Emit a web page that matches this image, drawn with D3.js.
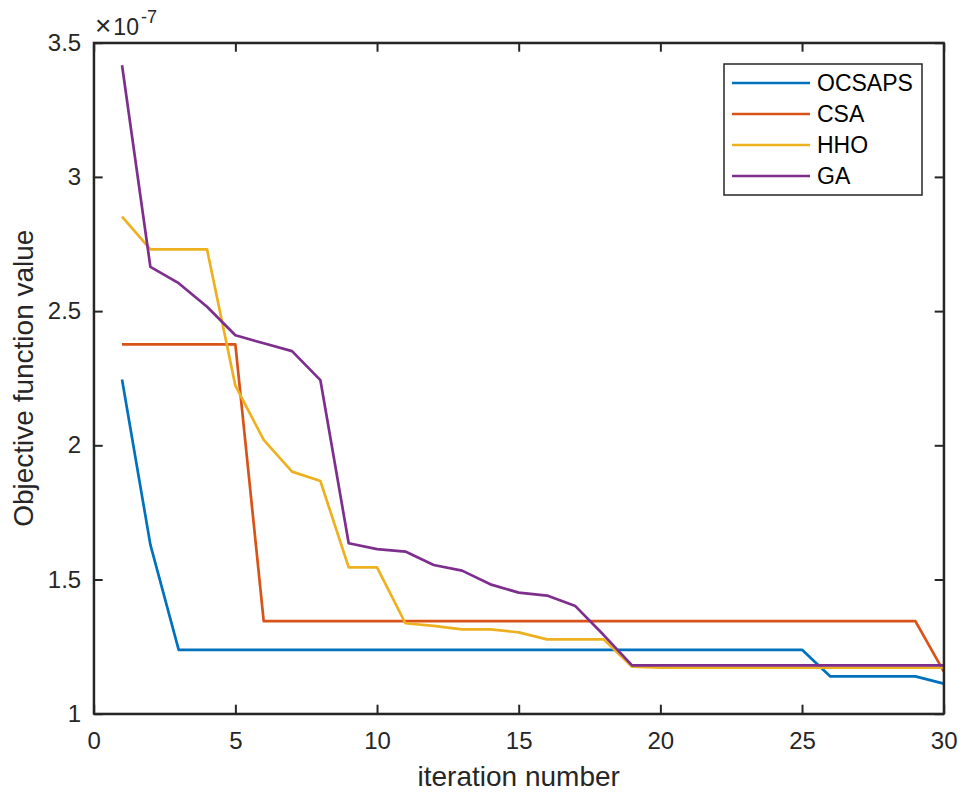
<!DOCTYPE html>
<html>
<head>
<meta charset="utf-8">
<script src="https://cdn.jsdelivr.net/npm/d3@7"></script>
<style>
  body { margin: 0; background: #fff; }
  svg { font-family: "Liberation Sans", Arial, sans-serif; }
  .axis path, .axis line { stroke: #262626; }
  .axis text { fill: #262626; font-size: 24px; }
</style>
</head>
<body>
<svg id="chart"></svg>
<script>
// iterations 1..30, values in units of 1e-7
const iterations = d3.range(1, 31);
const seriesNames = ["OCSAPS", "CSA", "HHO", "GA"];
const colors = ["#0072BD", "#D95319", "#EDB120", "#7E2F8E"];

const ocsaps = [2.245, 1.63, 1.238, 1.238, 1.238, 1.238, 1.238, 1.238, 1.238, 1.238,
  1.238, 1.238, 1.238, 1.238, 1.238, 1.238, 1.238, 1.238, 1.238, 1.238,
  1.238, 1.238, 1.238, 1.238, 1.238, 1.139, 1.139, 1.139, 1.139, 1.112];
const csa = [2.376, 2.376, 2.376, 2.376, 2.376, 1.345, 1.345, 1.345, 1.345, 1.345,
  1.345, 1.345, 1.345, 1.345, 1.345, 1.345, 1.345, 1.345, 1.345, 1.345,
  1.345, 1.345, 1.345, 1.345, 1.345, 1.345, 1.345, 1.345, 1.345, 1.158];
const hho = [2.852, 2.730, 2.730, 2.730, 2.222, 2.020, 1.902, 1.867, 1.545, 1.545,
  1.337, 1.327, 1.314, 1.314, 1.303, 1.277, 1.277, 1.277, 1.175, 1.172,
  1.172, 1.172, 1.172, 1.172, 1.172, 1.172, 1.172, 1.172, 1.172, 1.172];
const ga = [3.416, 2.665, 2.604, 2.516, 2.410, 2.380, 2.351, 2.243, 1.635, 1.613,
  1.604, 1.554, 1.533, 1.482, 1.451, 1.440, 1.401, 1.293, 1.180, 1.180,
  1.180, 1.180, 1.180, 1.180, 1.180, 1.180, 1.180, 1.180, 1.180, 1.180];

const xTicks = [0, 5, 10, 15, 20, 25, 30];
const yTicks = [1, 1.5, 2, 2.5, 3, 3.5];

const allSeries = [ocsaps, csa, hho, ga];

const W = 962, H = 796;
const margin = { top: 42.7, right: 18.3, bottom: 82.3, left: 93.7 };
const width = W - margin.left - margin.right;
const height = H - margin.top - margin.bottom;

const svg = d3.select("#chart").attr("width", W).attr("height", H);
const chart = svg.append("g")
  .attr("transform", `translate(${margin.left},${margin.top})`);

const xScale = d3.scaleLinear().domain([0, 30]).range([0, width]);
const yScale = d3.scaleLinear().domain([1, 3.5]).range([height, 0]);

// axes, ticks pointing inward on all four sides (MATLAB style)
const tickLen = 9;
chart.append("g").attr("class", "axis")
  .attr("transform", `translate(0,${height})`)
  .call(d3.axisBottom(xScale).tickValues(xTicks).tickSize(-tickLen).tickSizeOuter(0).tickPadding(35))
  .call(g => g.selectAll("text").attr("dy", 0));
chart.append("g").attr("class", "axis")
  .call(d3.axisTop(xScale).tickValues(xTicks).tickSize(-tickLen).tickSizeOuter(0).tickFormat(""));
chart.append("g").attr("class", "axis")
  .call(d3.axisLeft(yScale).tickValues(yTicks).tickSize(-tickLen).tickSizeOuter(0).tickPadding(12.5).tickFormat(d3.format("")));
chart.append("g").attr("class", "axis")
  .attr("transform", `translate(${width},0)`)
  .call(d3.axisRight(yScale).tickValues(yTicks).tickSize(-tickLen).tickSizeOuter(0).tickFormat(""));

chart.selectAll(".axis path").attr("stroke-width", 2);
chart.selectAll(".axis line").attr("stroke-width", 2);

// lines
const line = d3.line()
  .x((d, i) => xScale(iterations[i]))
  .y(d => yScale(d));

chart.selectAll(".series")
  .data(allSeries)
  .join("path")
  .attr("class", "series")
  .attr("fill", "none")
  .attr("stroke", (d, i) => colors[i])
  .attr("stroke-width", 2.7)
  .attr("stroke-linejoin", "round")
  .attr("d", line);

// frame on top
chart.append("rect")
  .attr("width", width).attr("height", height)
  .attr("fill", "none").attr("stroke", "#262626").attr("stroke-width", 2);

// exponent label
const expo = svg.append("text")
  .attr("x", 95).attr("y", 35)
  .attr("fill", "#262626").attr("font-size", 23);
expo.append("tspan").attr("font-size", 28).text("\u00d7");
expo.append("tspan").attr("dx", 2).text("10");
expo.append("tspan").attr("dx", 2).attr("dy", -12).attr("font-size", 18).text("-7");

// axis labels
svg.append("text")
  .attr("x", margin.left + width / 2).attr("y", 786)
  .attr("text-anchor", "middle").attr("fill", "#262626").attr("font-size", 28)
  .text("iteration number");
svg.append("text")
  .attr("transform", `translate(33,${margin.top + height / 2}) rotate(-90)`)
  .attr("text-anchor", "middle").attr("fill", "#262626").attr("font-size", 28)
  .text("Objective function value");

// legend
const legend = svg.append("g").attr("transform", "translate(724,64)");
legend.append("rect")
  .attr("width", 198).attr("height", 131)
  .attr("fill", "#fff").attr("stroke", "#262626").attr("stroke-width", 1.5);
const items = legend.selectAll(".item")
  .data(seriesNames)
  .join("g")
  .attr("class", "item")
  .attr("transform", (d, i) => `translate(0,${19 + i * 31})`);
items.append("line")
  .attr("x1", 8).attr("x2", 86)
  .attr("stroke", (d, i) => colors[i]).attr("stroke-width", 2.7);
items.append("text")
  .attr("x", 93).attr("dy", "0.36em")
  .attr("font-size", 23).attr("fill", "#000")
  .text(d => d);
</script>
</body>
</html>
